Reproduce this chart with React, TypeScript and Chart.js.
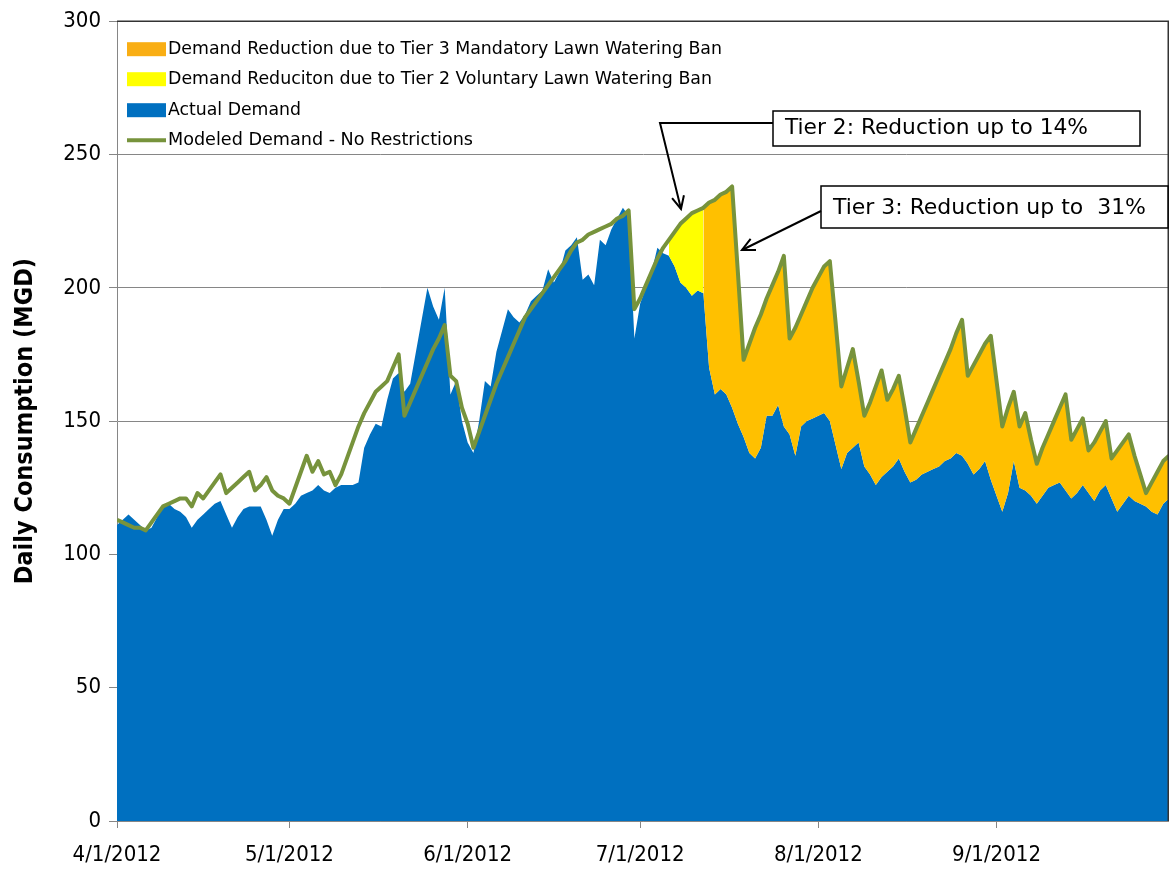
import React, { useEffect, useRef } from "react";
import { Chart, registerables } from "chart.js";

Chart.register(...registerables);

// Day offsets from 4/1/2012 (day 0) to 10/1/2012 (day 183)
const monthTickDays = [0, 30, 61, 91, 122, 153];
const monthTickLabels = ["4/1/2012", "5/1/2012", "6/1/2012", "7/1/2012", "8/1/2012", "9/1/2012"];

// Actual demand (MGD), one value per day starting 4/1/2012
const actualDemand = [
  111, 113, 115, 113, 111, 109, 110, 114, 118, 119,
  117, 116, 114, 110, 113, 115, 117, 119, 120, 115,
  110, 114, 117, 118, 118, 118, 113, 107, 113, 117,
  117, 119, 122, 123, 124, 126, 124, 123, 125, 126,
  126, 126, 127, 140, 145, 149, 148, 158, 166, 168,
  161, 164, 176, 188, 200, 193, 188, 200, 160, 165,
  150, 142, 138, 150, 165, 163, 176, 184, 192, 189,
  187, 190, 195, 197, 199, 207, 202, 206, 214, 216,
  219, 203, 205, 201, 218, 216, 222, 226, 230, 227,
  181, 194, 200, 206, 215, 213, 212, 208, 202, 200,
  197, 199, 198, 170, 160, 162, 160, 155, 149, 144,
  138, 136, 140, 152, 152, 156, 148, 145, 137, 148,
  150, 151, 152, 153, 150, 141, 132, 138, 140, 142,
  133, 130, 126, 129, 131, 133, 136, 131, 127, 128,
  130, 131, 132, 133, 135, 136, 138, 137, 134, 130,
  132, 135, 128, 122, 116, 123, 135, 125, 124, 122,
  119, 122, 125, 126, 127, 124, 121, 123, 126, 123,
  120, 124, 126, 121, 116, 119, 122, 120, 119, 118,
  116, 115, 119, 121,
];

// Modeled demand with no restrictions (MGD)
const modeledDemand = [
  113, 112, 111, 110, 110, 109, 112, 115, 118, 119,
  120, 121, 121, 118, 123, 121, 124, 127, 130, 123,
  125, 127, 129, 131, 124, 126, 129, 124, 122, 121,
  119, 125, 131, 137, 131, 135, 130, 131, 126, 130,
  136, 142, 148, 153, 157, 161, 163, 165, 170, 175,
  152, 157, 162, 167, 172, 177, 181, 186, 167, 165,
  155, 149, 140, 146, 152, 158, 164, 169, 174, 179,
  184, 189, 192, 195, 198, 201, 204, 207, 210, 214,
  217, 218, 220, 221, 222, 223, 224, 226, 227, 229,
  192, 196, 201, 206, 211, 215, 218, 221, 224, 226,
  228, 229, 230, 232, 233, 235, 236, 238, 206, 173,
  179, 185, 190, 196, 201, 206, 212, 181, 185, 190,
  195, 200, 204, 208, 210, 187, 163, 170, 177, 165,
  152, 157, 163, 169, 158, 162, 167, 155, 142, 147,
  152, 157, 162, 167, 172, 177, 183, 188, 167, 171,
  175, 179, 182, 165, 148, 155, 161, 148, 153, 143,
  134, 140, 145, 150, 155, 160, 143, 147, 151, 139,
  142, 146, 150, 136, 139, 142, 145, 137, 130, 123,
  127, 131, 135, 137,
];

// Restriction windows (day offsets)
const tier2Window = [96, 102];
const tier3Window = [102, 183];

const legendLabels = [
  "Demand Reduction due to Tier 3 Mandatory Lawn Watering Ban",
  "Demand Reduciton due to Tier 2 Voluntary Lawn Watering Ban",
  "Actual Demand",
  "Modeled Demand - No Restrictions",
];
const tier2Note = "Tier 2: Reduction up to 14%";
const tier3Note = "Tier 3: Reduction up to  31%";

const BLUE = "#0070C0";
const ORANGE = "#FFC000";
const YELLOW = "#FFFF00";
const GREEN = "#77933C";
const FONT = "'Liberation Sans Narrow', 'DejaVu Sans Condensed', Carlito, 'Liberation Sans', sans-serif";

function fitText(ctx: CanvasRenderingContext2D, text: string, x: number, y: number, width: number, font: string) {
  ctx.save();
  ctx.font = font;
  ctx.textBaseline = "middle";
  ctx.textAlign = "left";
  const w = ctx.measureText(text).width;
  ctx.translate(x, y);
  ctx.scale(width / w, 1);
  ctx.fillStyle = "#000";
  ctx.fillText(text, 0, 0);
  ctx.restore();
}

function arrowHead(ctx: CanvasRenderingContext2D, fx: number, fy: number, tx: number, ty: number) {
  const ang = Math.atan2(ty - fy, tx - fx);
  const len = 14;
  const spread = 0.45;
  ctx.beginPath();
  ctx.moveTo(tx - len * Math.cos(ang - spread), ty - len * Math.sin(ang - spread));
  ctx.lineTo(tx, ty);
  ctx.lineTo(tx - len * Math.cos(ang + spread), ty - len * Math.sin(ang + spread));
  ctx.stroke();
}

const overlayPlugin = {
  id: "overlay",
  afterDraw(chart: any) {
    const ctx: CanvasRenderingContext2D = chart.ctx;
    const a = chart.chartArea;
    ctx.save();
    // plot border top and right
    ctx.strokeStyle = "#333";
    ctx.lineWidth = 1.5;
    ctx.beginPath();
    ctx.moveTo(a.left, a.top);
    ctx.lineTo(a.right - 0.75, a.top);
    ctx.lineTo(a.right - 0.75, a.bottom);
    ctx.stroke();

    // legend
    const lx = a.left + 10;
    const rows = [a.top + 28, a.top + 58, a.top + 89, a.top + 119];
    const swatches = [ORANGE, YELLOW, BLUE];
    swatches.forEach((c, i) => {
      ctx.fillStyle = i === 0 ? "#F9AE14" : c;
      ctx.fillRect(lx, rows[i] - 7, 39, 14);
    });
    ctx.strokeStyle = GREEN;
    ctx.lineWidth = 4;
    ctx.beginPath();
    ctx.moveTo(lx, rows[3]);
    ctx.lineTo(lx + 39, rows[3]);
    ctx.stroke();
    const widths = [554, 544, 133, 305];
    legendLabels.forEach((t, i) => fitText(ctx, t, lx + 41, rows[i], widths[i], `18px ${FONT}`));

    // Tier 2 box and arrow
    ctx.strokeStyle = "#000";
    ctx.lineWidth = 1.5;
    ctx.fillStyle = "#fff";
    ctx.fillRect(773, 111, 367, 35);
    ctx.strokeRect(773, 111, 367, 35);
    fitText(ctx, tier2Note, 785, 129, 303, `21px ${FONT}`);
    ctx.lineWidth = 2;
    ctx.beginPath();
    ctx.moveTo(773, 123);
    ctx.lineTo(660, 123);
    ctx.lineTo(681, 209);
    ctx.stroke();
    arrowHead(ctx, 660, 123, 681, 209);

    // Tier 3 box and arrow
    ctx.lineWidth = 1.5;
    ctx.fillStyle = "#fff";
    ctx.fillRect(821, 186, 347, 42);
    ctx.strokeRect(821, 186, 347, 42);
    fitText(ctx, tier3Note, 833, 209, 313, `21px ${FONT}`);
    ctx.lineWidth = 2;
    ctx.beginPath();
    ctx.moveTo(821, 211);
    ctx.lineTo(742, 250);
    ctx.stroke();
    arrowHead(ctx, 821, 211, 742, 250);
    ctx.restore();
  },
};

export default function App() {
  const ref = useRef<HTMLCanvasElement | null>(null);
  useEffect(() => {
    if (!ref.current) return;
    const actualPts = actualDemand.map((v, i) => ({ x: i, y: v }));
    const modeledPts = modeledDemand.map((v, i) => ({ x: i, y: v }));
    const tier2Pts = modeledPts.filter((p) => p.x >= tier2Window[0] && p.x <= tier2Window[1]);
    const tier3Pts = modeledPts.filter((p) => p.x >= tier3Window[0] && p.x <= tier3Window[1]);
    const chart = new Chart(ref.current, {
      type: "line",
      data: {
        datasets: [
          {
            label: legendLabels[3],
            data: modeledPts,
            borderColor: GREEN,
            borderWidth: 4,
            borderJoinStyle: "round",
            pointRadius: 0,
            fill: false,
            tension: 0,
          },
          {
            label: legendLabels[0],
            data: tier3Pts,
            borderWidth: 0,
            borderColor: "rgba(0,0,0,0)",
            backgroundColor: ORANGE,
            pointRadius: 0,
            fill: 3,
          },
          {
            label: legendLabels[1],
            data: tier2Pts,
            borderWidth: 0,
            borderColor: "rgba(0,0,0,0)",
            backgroundColor: YELLOW,
            pointRadius: 0,
            fill: 3,
          },
          {
            label: legendLabels[2],
            data: actualPts,
            borderWidth: 0,
            borderColor: "rgba(0,0,0,0)",
            backgroundColor: BLUE,
            pointRadius: 0,
            fill: "origin",
          },
        ],
      },
      options: {
        responsive: false,
        maintainAspectRatio: false,
        devicePixelRatio: 1,
        animation: false,
        layout: { padding: { top: 17, right: 0, left: 0, bottom: 0 } },
        plugins: {
          legend: { display: false },
          tooltip: { enabled: false },
        },
        scales: {
          x: {
            type: "linear",
            min: 0,
            max: 183,
            afterFit: (s: any) => {
              s.height = 52;
            },
            afterBuildTicks: (s: any) => {
              s.ticks = monthTickDays.map((v) => ({ value: v }));
            },
            grid: { drawOnChartArea: false, drawTicks: true, tickLength: 7, color: "#868686" },
            border: { color: "#868686", width: 1 },
            ticks: {
              autoSkip: false,
              maxRotation: 0,
              padding: 14,
              color: "#000",
              font: { family: FONT, size: 22 },
              callback: (v: any) => {
                const i = monthTickDays.indexOf(Number(v));
                return i >= 0 ? monthTickLabels[i] : "";
              },
            },
          },
          y: {
            min: 0,
            max: 300,
            afterFit: (s: any) => {
              s.width = 117;
            },
            grid: { color: "#868686", tickLength: 8 },
            border: { color: "#868686", width: 1 },
            ticks: {
              stepSize: 50,
              padding: 8,
              color: "#000",
              font: { family: FONT, size: 22 },
            },
            title: {
              display: true,
              text: "Daily Consumption (MGD)",
              color: "#000",
              font: { family: FONT, size: 25, weight: "bold" },
              padding: { top: 10, bottom: 0 },
            },
          },
        },
      },
      plugins: [overlayPlugin],
    });
    return () => chart.destroy();
  }, []);
  return (
    <div style={{ position: "absolute", left: 0, top: 0, width: 1169, height: 873, background: "#fff" }}>
      <canvas ref={ref} width={1169} height={873} style={{ display: "block", width: 1169, height: 873 }} />
    </div>
  );
}
